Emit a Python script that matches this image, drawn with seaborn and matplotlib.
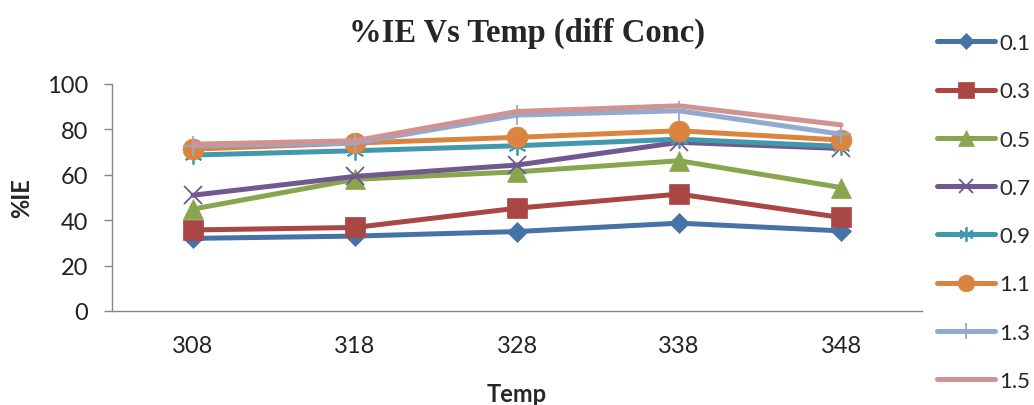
import matplotlib
matplotlib.use("Agg")
import matplotlib.pyplot as plt
import pandas as pd
import seaborn as sns

temps = ["308", "318", "328", "338", "348"]
conc_labels = ["0.1", "0.3", "0.5", "0.7", "0.9", "1.1", "1.3", "1.5"]
ie_01 = [32, 33, 35, 38.7, 35.3]
ie_03 = [35.7, 36.8, 45.3, 51.5, 41.2]
ie_05 = [44.9, 58, 61.3, 66.2, 54.4]
ie_07 = [51, 59.3, 64.3, 74.3, 71.6]
ie_09 = [68.7, 70.6, 72.8, 75.7, 72.5]
ie_11 = [71.3, 74, 76.5, 79.4, 75.3]
ie_13 = [72.8, 74, 86.3, 88.2, 77.9]
ie_15 = [73.5, 75, 87.9, 90.4, 82]

series = [ie_01, ie_03, ie_05, ie_07, ie_09, ie_11, ie_13, ie_15]
colors = ["#4572A7", "#AA4643", "#89A54E", "#71588F", "#4198AF", "#DB843D", "#93A9CF", "#D19392"]
markers = ["D", "s", "^", "x", (6, 2, 0), "o", "+", None]
msizes = [10, 14, 14, 13, 13, 15, 15, 0]

rows = []
for lab, vals in zip(conc_labels, series):
    for i, v in enumerate(vals):
        rows.append({"pos": i, "conc": lab, "ie": v})
df = pd.DataFrame(rows)

sns.set_style("white")
plt.rcParams["font.family"] = ["Lato", "DejaVu Sans"]

fig = plt.figure(figsize=(10.34, 4.06), dpi=100)
ax = fig.add_axes([112 / 1034, 1 - 312 / 406, 810 / 1034, 227 / 406])

for lab, col, mk, ms in zip(conc_labels, colors, markers, msizes):
    sub = df[df["conc"] == lab]
    thin = mk in ("x", "+", (6, 2, 0))
    sns.lineplot(data=sub, x="pos", y="ie", ax=ax, color=col, linewidth=3.6,
                 marker=mk if mk is not None else "", markersize=ms,
                 markeredgecolor=col, markeredgewidth=1.3 if thin else 0.5,
                 label=lab, legend=False)

ax.set_xlim(-0.5, 4.5)
ax.set_ylim(0, 100)
ax.set_yticks(range(0, 101, 20))
ax.set_xticks(range(5))
ax.set_xticklabels(temps)
ax.set_xticks([i - 0.5 for i in range(6)], minor=True)
ax.tick_params(axis="x", which="major", length=0, labelsize=17, pad=17, labelcolor="#222222")
ax.tick_params(axis="x", which="minor", length=7, width=1, color="#868686", direction="out")
ax.tick_params(axis="y", length=6, width=1, color="#868686", direction="out", labelsize=17,
               pad=11, left=True, labelcolor="#222222")
for s in ["top", "right"]:
    ax.spines[s].set_visible(False)
for s in ["left", "bottom"]:
    ax.spines[s].set_color("#868686")
    ax.spines[s].set_linewidth(1)

ax.set_xlabel("Temp", fontsize=17, fontweight="bold")
ax.xaxis.label.set_va("center")
ax.xaxis.set_label_coords(0.5, -(395 - 312) / 227)
ax.set_ylabel("%IE", fontsize=17, fontweight="bold")
ax.yaxis.label.set_va("center")
ax.yaxis.set_label_coords(-(112 - 22) / 810, 0.5)

fig.text(527 / 1034, 1 - 33 / 406, "%IE Vs Temp (diff Conc)", ha="center", va="center",
         fontsize=23.5, fontweight="bold", family=["Liberation Serif", "DejaVu Serif"])

handles, labels = ax.get_legend_handles_labels()
fig.legend(handles, labels, loc="center left", bbox_to_anchor=((937 - 9) / 1034, 1 - 213 / 406),
           frameon=False, fontsize=16, labelspacing=1.27, handlelength=2.6,
           handletextpad=0.2, borderaxespad=0, markerscale=0.8)

fig.savefig("out.png", dpi=100)
